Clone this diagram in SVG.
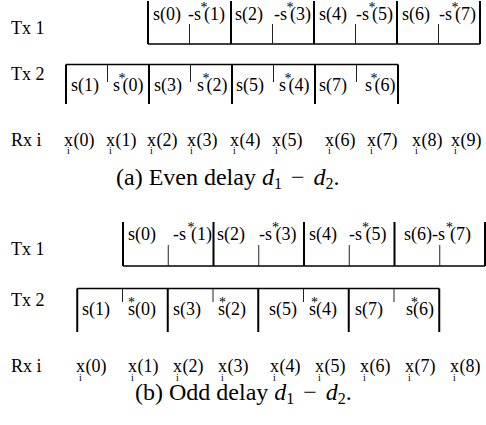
<svg xmlns="http://www.w3.org/2000/svg" width="486" height="425" viewBox="0 0 486 425">
<style>
.t{font-family:"Liberation Serif","Times New Roman",serif;font-size:18px;fill:#000}
.ast{font-size:14px}
.sub{font-size:10px}
.cap{font-size:24px}
.thick{stroke:#000;stroke-width:2;fill:none}
.thin{stroke:#222;stroke-width:1;fill:none}
.base{stroke:#000;stroke-width:1.3;fill:none}
</style>
<rect width="486" height="425" fill="#fff"/>
<g id="panel-a">
  <g id="a-labels">
    <text class="t" x="11" y="34">Tx 1</text>
    <text class="t" x="11" y="80">Tx 2</text>
    <text class="t" x="11" y="146">Rx i</text>
  </g>
  <g id="a-tx1">
    <g class="connectors">
      <line class="base" x1="148" y1="44" x2="480" y2="44"/>
      <path class="thick" d="M148 1V44M231 1V44M314 1V44M397 1V44M480 1V44"/>
      <path class="thin" d="M189.5 24V44M272.5 24V44M355.5 24V44M438.5 24V44"/>
    </g>
    <text class="t" x="153" y="20">s(0)</text>
    <text class="t" x="188" y="20">-s<tspan class="ast" x="200.5" dy="-8.5">*</tspan><tspan x="204" dy="8.5">(1)</tspan></text>
    <text class="t" x="235" y="20">s(2)</text>
    <text class="t" x="274" y="20">-s<tspan class="ast" x="286.5" dy="-8.5">*</tspan><tspan x="290" dy="8.5">(3)</tspan></text>
    <text class="t" x="319" y="20">s(4)</text>
    <text class="t" x="356" y="20">-s<tspan class="ast" x="368.5" dy="-8.5">*</tspan><tspan x="372" dy="8.5">(5)</tspan></text>
    <text class="t" x="402" y="20">s(6)</text>
    <text class="t" x="439" y="20">-s<tspan class="ast" x="451.5" dy="-8.5">*</tspan><tspan x="455" dy="8.5">(7)</tspan></text>
  </g>
  <g id="a-tx2">
    <g class="connectors">
      <line class="base" x1="66" y1="64.5" x2="398" y2="64.5"/>
      <path class="thick" d="M66 64.5V104M149 64.5V104M232 64.5V104M315 64.5V104M398 64.5V104"/>
      <path class="thin" d="M107.5 64.5V82M190.5 64.5V82M273.5 64.5V82M356.5 64.5V82"/>
    </g>
    <text class="t" x="71" y="91">s(1)</text>
    <text class="t" x="113" y="91">s<tspan class="ast" x="118.5" dy="-8.5">*</tspan><tspan x="122.5" dy="8.5">(0)</tspan></text>
    <text class="t" x="154" y="91">s(3)</text>
    <text class="t" x="197" y="91">s<tspan class="ast" x="202.5" dy="-8.5">*</tspan><tspan x="206.5" dy="8.5">(2)</tspan></text>
    <text class="t" x="236" y="91">s(5)</text>
    <text class="t" x="279" y="91">s<tspan class="ast" x="284.5" dy="-8.5">*</tspan><tspan x="288.5" dy="8.5">(4)</tspan></text>
    <text class="t" x="319" y="91">s(7)</text>
    <text class="t" x="365" y="91">s<tspan class="ast" x="370.5" dy="-8.5">*</tspan><tspan x="374.5" dy="8.5">(6)</tspan></text>
  </g>
  <g id="a-rx">
    <text class="t" x="64" y="146">x<tspan class="sub" x="67.1" dy="8">i</tspan><tspan x="73.5" dy="-8">(0)</tspan></text>
    <text class="t" x="106" y="146">x<tspan class="sub" x="109.1" dy="8">i</tspan><tspan x="115.5" dy="-8">(1)</tspan></text>
    <text class="t" x="147" y="146">x<tspan class="sub" x="150.1" dy="8">i</tspan><tspan x="156.5" dy="-8">(2)</tspan></text>
    <text class="t" x="187" y="146">x<tspan class="sub" x="190.1" dy="8">i</tspan><tspan x="196.5" dy="-8">(3)</tspan></text>
    <text class="t" x="230" y="146">x<tspan class="sub" x="233.1" dy="8">i</tspan><tspan x="239.5" dy="-8">(4)</tspan></text>
    <text class="t" x="272" y="146">x<tspan class="sub" x="275.1" dy="8">i</tspan><tspan x="281.5" dy="-8">(5)</tspan></text>
    <text class="t" x="325" y="146">x<tspan class="sub" x="328.1" dy="8">i</tspan><tspan x="334.5" dy="-8">(6)</tspan></text>
    <text class="t" x="367" y="146">x<tspan class="sub" x="370.1" dy="8">i</tspan><tspan x="376.5" dy="-8">(7)</tspan></text>
    <text class="t" x="412" y="146">x<tspan class="sub" x="415.1" dy="8">i</tspan><tspan x="421.5" dy="-8">(8)</tspan></text>
    <text class="t" x="451" y="146">x<tspan class="sub" x="454.1" dy="8">i</tspan><tspan x="460.5" dy="-8">(9)</tspan></text>
  </g>
  <text id="a-caption" class="t cap" x="116" y="185">(a) Even delay <tspan font-style="italic">d</tspan><tspan font-size="16" dy="4">1</tspan><tspan dx="3" dy="-4"> − </tspan><tspan dx="3" font-style="italic">d</tspan><tspan font-size="16" dy="4">2</tspan><tspan dy="-4">.</tspan></text>
</g>
<g id="panel-b">
  <g id="b-labels">
    <text class="t" x="11" y="255">Tx 1</text>
    <text class="t" x="11" y="306">Tx 2</text>
    <text class="t" x="11" y="372">Rx i</text>
  </g>
  <g id="b-tx1">
    <g class="connectors">
      <line class="base" x1="123" y1="266" x2="485" y2="266"/>
      <path class="thick" d="M123 222V266M213.5 222V266M304 222V266M394.5 222V266M485 222V266"/>
      <path class="thin" d="M168.25 245V266M258.75 245V266M349.25 245V266M439.75 245V266"/>
    </g>
    <text class="t" x="128" y="240">s(0)</text>
    <text class="t" x="173" y="240">-s<tspan class="ast" x="187.5" dy="-8.5">*</tspan><tspan x="191" dy="8.5">(1)</tspan></text>
    <text class="t" x="217" y="240">s(2)</text>
    <text class="t" x="259" y="240">-s<tspan class="ast" x="272" dy="-8.5">*</tspan><tspan x="275.5" dy="8.5">(3)</tspan></text>
    <text class="t" x="309" y="240">s(4)</text>
    <text class="t" x="349" y="240">-s<tspan class="ast" x="362" dy="-8.5">*</tspan><tspan x="365.5" dy="8.5">(5)</tspan></text>
    <text class="t" x="404" y="240">s(6)-s<tspan class="ast" x="446" dy="-8.5">*</tspan><tspan x="450" dy="8.5">(7)</tspan></text>
  </g>
  <g id="b-tx2">
    <g class="connectors">
      <line class="base" x1="77.25" y1="288.5" x2="439.25" y2="288.5"/>
      <path class="thick" d="M77.25 288.5V332M167.75 288.5V332M258.25 288.5V332M348.75 288.5V332M439.25 288.5V332"/>
      <path class="thin" d="M122.5 288.5V302M213 288.5V302M303.5 288.5V302M394 288.5V302"/>
    </g>
    <text class="t" x="82" y="315">s(1)</text>
    <text class="t" x="128" y="315">s<tspan class="ast" x="128" dy="-8.5">*</tspan><tspan x="135" dy="8.5">(0)</tspan></text>
    <text class="t" x="173" y="315">s(3)</text>
    <text class="t" x="218" y="315">s<tspan class="ast" x="219" dy="-8.5">*</tspan><tspan x="225" dy="8.5">(2)</tspan></text>
    <text class="t" x="269" y="315">s(5)</text>
    <text class="t" x="309" y="315">s<tspan class="ast" x="311" dy="-8.5">*</tspan><tspan x="316" dy="8.5">(4)</tspan></text>
    <text class="t" x="355" y="315">s(7)</text>
    <text class="t" x="406" y="315">s<tspan class="ast" x="411" dy="-8.5">*</tspan><tspan x="413" dy="8.5">(6)</tspan></text>
  </g>
  <g id="b-rx">
    <text class="t" x="76" y="372">x<tspan class="sub" x="79.1" dy="9">i</tspan><tspan x="85.5" dy="-9">(0)</tspan></text>
    <text class="t" x="128" y="372">x<tspan class="sub" x="131.1" dy="9">i</tspan><tspan x="137.5" dy="-9">(1)</tspan></text>
    <text class="t" x="173" y="372">x<tspan class="sub" x="176.1" dy="9">i</tspan><tspan x="182.5" dy="-9">(2)</tspan></text>
    <text class="t" x="218" y="372">x<tspan class="sub" x="221.1" dy="9">i</tspan><tspan x="227.5" dy="-9">(3)</tspan></text>
    <text class="t" x="270" y="372">x<tspan class="sub" x="273.1" dy="9">i</tspan><tspan x="279.5" dy="-9">(4)</tspan></text>
    <text class="t" x="315" y="372">x<tspan class="sub" x="318.1" dy="9">i</tspan><tspan x="324.5" dy="-9">(5)</tspan></text>
    <text class="t" x="360" y="372">x<tspan class="sub" x="363.1" dy="9">i</tspan><tspan x="369.5" dy="-9">(6)</tspan></text>
    <text class="t" x="405" y="372">x<tspan class="sub" x="408.1" dy="9">i</tspan><tspan x="414.5" dy="-9">(7)</tspan></text>
    <text class="t" x="450" y="372">x<tspan class="sub" x="453.1" dy="9">i</tspan><tspan x="459.5" dy="-9">(8)</tspan></text>
  </g>
  <text id="b-caption" class="t cap" x="135" y="400">(b) Odd delay <tspan font-style="italic">d</tspan><tspan font-size="16" dy="4">1</tspan><tspan dx="3" dy="-4"> − </tspan><tspan dx="3" font-style="italic">d</tspan><tspan font-size="16" dy="4">2</tspan><tspan dy="-4">.</tspan></text>
</g>
</svg>
